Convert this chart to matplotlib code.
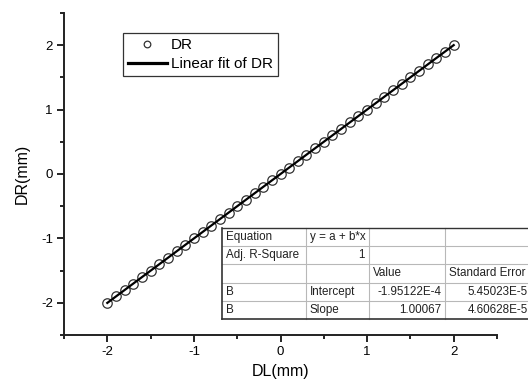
import numpy as np
import matplotlib.pyplot as plt
from matplotlib.lines import Line2D

plt.rcParams["font.family"] = ["Liberation Sans", "DejaVu Sans"]
plt.rcParams["axes.unicode_minus"] = False

# measured data
dl = [-2.0, -1.9, -1.8, -1.7, -1.6, -1.5, -1.4, -1.3, -1.2, -1.1, -1.0,
      -0.9, -0.8, -0.7, -0.6, -0.5, -0.4, -0.3, -0.2, -0.1, 0.0,
      0.1, 0.2, 0.3, 0.4, 0.5, 0.6, 0.7, 0.8, 0.9, 1.0,
      1.1, 1.2, 1.3, 1.4, 1.5, 1.6, 1.7, 1.8, 1.9, 2.0]
dr = [-2.002, -1.902, -1.801, -1.701, -1.601, -1.501, -1.401, -1.301, -1.201, -1.101, -1.001,
      -0.901, -0.801, -0.701, -0.601, -0.501, -0.401, -0.301, -0.200, -0.100, 0.000,
      0.100, 0.200, 0.300, 0.400, 0.500, 0.600, 0.701, 0.801, 0.901, 1.001,
      1.101, 1.201, 1.301, 1.401, 1.501, 1.601, 1.701, 1.801, 1.901, 2.001]

# fit results table
table_rows = [
    ["Equation", "y = a + b*x", "", ""],
    ["Adj. R-Square", "1", "", ""],
    ["", "", "Value", "Standard Error"],
    ["B", "Intercept", "-1.95122E-4", "5.45023E-5"],
    ["B", "Slope", "1.00067", "4.60628E-5"],
]
table_align = [
    ["left", "left", "left", "left"],
    ["left", "right", "left", "left"],
    ["left", "left", "left", "left"],
    ["left", "left", "right", "right"],
    ["left", "left", "right", "right"],
]

W, H = 528, 381
fig = plt.figure(figsize=(W / 100, H / 100), dpi=100)
ax = fig.add_axes([64 / W, 1 - 335 / H, (497 - 64) / W, (335 - 13) / H])

x = np.array(dl)
y = np.array(dr)
b, a = np.polyfit(x, y, 1)
xf = np.array([x.min(), x.max()])

ax.plot(x, y, "o", mfc="none", mec="#333333", mew=0.9, ms=6.8, label="DR", zorder=2)
ax.plot(xf, a + b * xf, color="black", lw=1.6, label="Linear fit of DR", zorder=3)

ax.set_xlim(-2.5, 2.5)
ax.set_ylim(-2.5, 2.5)
ax.set_xticks([-2, -1, 0, 1, 2])
ax.set_yticks([-2, -1, 0, 1, 2])
ax.set_xticks([-2.5, -1.5, -0.5, 0.5, 1.5, 2.5], minor=True)
ax.set_yticks([-2.5, -1.5, -0.5, 0.5, 1.5, 2.5], minor=True)
ax.tick_params(which="major", direction="out", length=5, width=1.2, labelsize=9.5, pad=3)
ax.tick_params(which="minor", direction="out", length=3, width=1.2)
for s in ["top", "right"]:
    ax.spines[s].set_visible(False)
for s in ["left", "bottom"]:
    ax.spines[s].set_linewidth(1.4)
    ax.spines[s].set_color("#222222")

ax.set_xlabel("DL(mm)", fontsize=11.5, labelpad=4)
ax.set_ylabel("DR(mm)", fontsize=11.5, labelpad=8)

leg = ax.legend(loc="upper left", bbox_to_anchor=((123 - 64) / (497 - 64), 1 - (33 - 13) / (335 - 13)),
                fontsize=11, frameon=True, fancybox=False, edgecolor="black",
                handlelength=2.5, handletextpad=0.3, borderpad=0.35, labelspacing=0.3,
                borderaxespad=0, markerscale=0.7)
leg.get_frame().set_linewidth(0.9)
leg.get_lines()[1].set_linewidth(2.3)

# table drawn in figure pixel space
col_edges = [222, 306, 369, 445, 532]
row_edges = [228, 246, 264, 283, 301, 319]


def fx(px):
    return px / W


def fy(py):
    return 1 - py / H


for xe in col_edges[1:-1]:
    fig.add_artist(Line2D([fx(xe), fx(xe)], [fy(row_edges[0]), fy(row_edges[-1])],
                          color="#b8b8b8", lw=0.8, transform=fig.transFigure))
for ye in row_edges[1:-1]:
    fig.add_artist(Line2D([fx(col_edges[0]), fx(col_edges[-1])], [fy(ye), fy(ye)],
                          color="#b8b8b8", lw=0.8, transform=fig.transFigure))
fig.add_artist(Line2D([fx(col_edges[0]), fx(col_edges[-1])], [fy(row_edges[0])] * 2,
                      color="#333333", lw=1.0, transform=fig.transFigure))
fig.add_artist(Line2D([fx(col_edges[0]), fx(col_edges[-1])], [fy(row_edges[-1])] * 2,
                      color="#333333", lw=1.2, transform=fig.transFigure))
fig.add_artist(Line2D([fx(col_edges[0])] * 2, [fy(row_edges[0]), fy(row_edges[-1])],
                      color="#333333", lw=1.2, transform=fig.transFigure))

for i, row in enumerate(table_rows):
    yc = (row_edges[i] + row_edges[i + 1]) / 2
    for j, txt in enumerate(row):
        if not txt:
            continue
        if table_align[i][j] == "left":
            xt, ha = col_edges[j] + 4, "left"
        else:
            xt, ha = col_edges[j + 1] - 4, "right"
        fig.text(fx(xt), fy(yc), txt, ha=ha, va="center", fontsize=8.4, color="#222222")

fig.savefig("out.png", dpi=100)
